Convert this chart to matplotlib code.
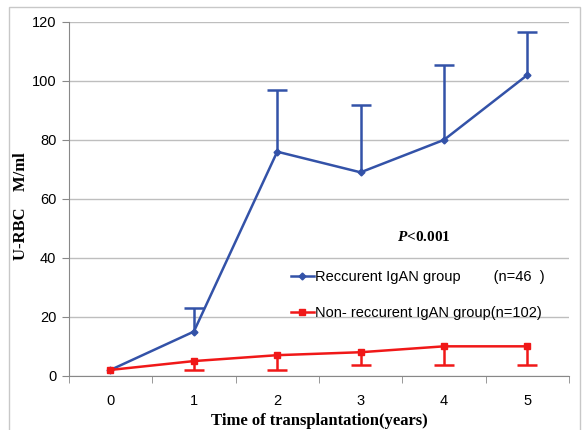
import matplotlib

matplotlib.use("Agg")
import matplotlib.pyplot as plt
from matplotlib.patches import Rectangle

years = [0, 1, 2, 3, 4, 5]
rec_mean = [2, 15, 76, 69, 80, 102]
rec_err_up = [0, 8, 21, 23, 25.5, 14.5]
nonrec_mean = [2, 5, 7, 8, 10, 10]
nonrec_err_down = [0, 3, 5, 4.3, 6.3, 6.3]

blue = "#3352A8"
red = "#F01818"
grid_col = "#BEBEBE"

plt.rcParams["mathtext.fontset"] = "custom"
plt.rcParams["mathtext.it"] = "Liberation Serif:italic:bold"

fig = plt.figure(figsize=(5.83, 4.30), dpi=100)
ax = fig.add_axes([0.118, 0.126, 0.858, 0.823])

# outer frame like the excel chart area (bottom edge runs off the picture)
fig.patches.append(Rectangle((0.015, -0.02), 0.980, 1.004, transform=fig.transFigure,
                             fill=False, edgecolor="#C8C8C8", linewidth=1))

cap = 0.12
# one-sided error bars: up for recurrent, down for non-recurrent
for x, m, e in zip(years, rec_mean, rec_err_up):
    if e > 0:
        ax.vlines(x, m, m + e, color=blue, linewidth=1.8, zorder=2)
        ax.hlines(m + e, x - cap, x + cap, color=blue, linewidth=1.8, zorder=2)
for x, m, e in zip(years, nonrec_mean, nonrec_err_down):
    if e > 0:
        ax.vlines(x, m - e, m, color=red, linewidth=1.8, zorder=2)
        ax.hlines(m - e, x - cap, x + cap, color=red, linewidth=1.8, zorder=2)

ax.plot(years, rec_mean, color=blue, linewidth=1.8, marker="D", markersize=3.5,
        label="Reccurent IgAN group        (n=46  )", zorder=3)
ax.plot(years, nonrec_mean, color=red, linewidth=1.8, marker="s", markersize=5,
        label="Non- reccurent IgAN group(n=102)", zorder=3)

ax.set_xlim(-0.5, 5.5)
ax.set_ylim(0, 120)
ax.set_yticks(range(0, 121, 20))
ax.set_xticks(years)
ax.set_xticks([x - 0.5 for x in years] + [5.5], minor=True)
ax.tick_params(axis="x", which="major", length=0, pad=13, labelsize=10.5)
ax.tick_params(axis="x", which="minor", length=5, color="#888888", direction="out")
ax.tick_params(axis="y", length=5, color="#888888", labelsize=10.5, pad=4)
for lab in ax.get_xticklabels() + ax.get_yticklabels():
    lab.set_family("Liberation Sans")

ax.yaxis.grid(True, color=grid_col, linewidth=1)
ax.set_axisbelow(True)
for s in ["top", "right"]:
    ax.spines[s].set_visible(False)
for s in ["left", "bottom"]:
    ax.spines[s].set_color("#888888")

ax.set_ylabel("U-RBC    M/ml", family="Liberation Serif", fontweight="bold", fontsize=12)
ax.yaxis.set_label_coords(-0.08, 0.48)
ax.set_xlabel("Time of transplantation(years)", family="Liberation Serif", fontweight="bold",
              fontsize=12, labelpad=4)

ax.text(3.76, 47, "$P$<0.001", family="Liberation Serif", fontweight="bold", fontsize=11,
        ha="center", va="center")

leg = ax.legend(loc="upper left", bbox_to_anchor=(0.417, 0.335), frameon=False,
                handlelength=1.6, handletextpad=0.1, labelspacing=1.5,
                prop={"family": "Liberation Sans", "size": 10.5})

fig.savefig("out.png", dpi=100)
